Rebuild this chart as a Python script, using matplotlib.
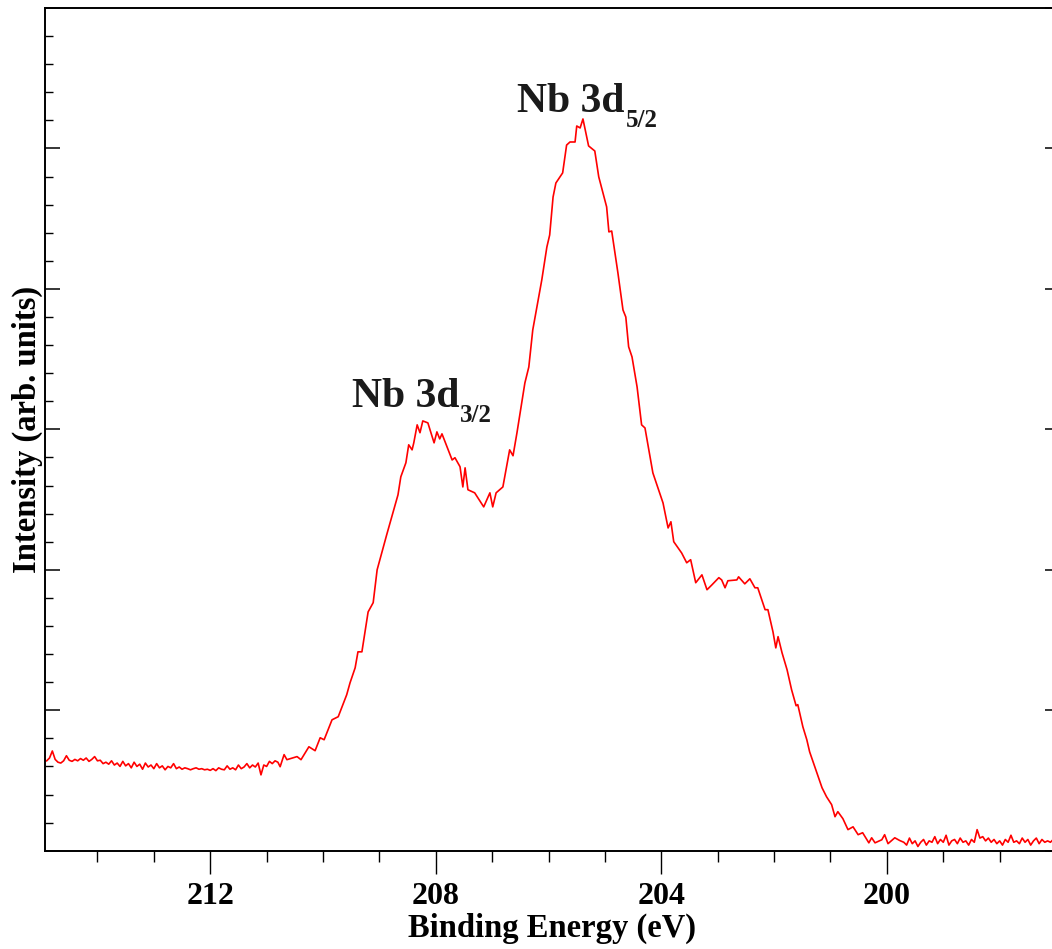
import matplotlib
matplotlib.use("Agg")
import matplotlib.pyplot as plt
from matplotlib.ticker import MultipleLocator, NullFormatter

plt.rcParams['font.family'] = ['Liberation Serif', 'DejaVu Serif']

# ---- data: binding energy (eV) and intensity (arb. units) ----
energy_left = [214.90, 214.85, 214.80, 214.75, 214.70, 214.65, 214.60, 214.55, 214.50, 214.45,
               214.40, 214.35, 214.30, 214.25, 214.20, 214.15, 214.10, 214.05, 214.00, 213.95,
               213.90, 213.85, 213.80, 213.75, 213.70, 213.65, 213.60, 213.55, 213.50, 213.45,
               213.40, 213.35, 213.30, 213.25, 213.20, 213.15, 213.10, 213.05, 213.00, 212.95,
               212.90, 212.85, 212.80, 212.75, 212.70, 212.65, 212.60, 212.55, 212.50, 212.45,
               212.40, 212.35, 212.30, 212.25, 212.20, 212.15, 212.10, 212.05, 212.00, 211.95,
               211.90, 211.85, 211.80, 211.75, 211.70, 211.65, 211.60, 211.55, 211.50, 211.45,
               211.40, 211.35, 211.30, 211.25, 211.20, 211.15, 211.10, 211.05, 211.00, 210.95,
               210.90, 210.85, 210.80]
intensity_left = [3.20, 3.30, 3.55, 3.25, 3.15, 3.12, 3.20, 3.38, 3.22, 3.18,
                  3.25, 3.20, 3.28, 3.22, 3.30, 3.18, 3.25, 3.35, 3.20, 3.22,
                  3.10, 3.15, 3.08, 3.20, 3.05, 3.12, 3.00, 3.18, 3.02, 3.10,
                  2.95, 3.15, 3.00, 3.08, 2.90, 3.12, 2.98, 3.05, 2.92, 3.10,
                  2.95, 3.02, 2.88, 3.00, 2.95, 3.10, 2.92, 2.98, 2.90, 2.95,
                  2.92, 2.88, 2.92, 2.95, 2.90, 2.92, 2.88, 2.90, 2.86, 2.92,
                  2.85, 2.95, 2.90, 2.88, 3.02, 2.90, 2.95, 2.88, 3.05, 2.92,
                  2.98, 3.10, 2.95, 3.05, 2.98, 3.12, 2.70, 3.05, 3.00, 3.18,
                  3.10, 3.20, 3.15]

energy_peaks = [210.76, 210.69, 210.64, 210.46, 210.39, 210.25, 210.14, 210.05, 209.98, 209.84,
                209.73, 209.58, 209.52, 209.43, 209.38, 209.31, 209.20, 209.11, 209.04, 208.87,
                208.67, 208.62, 208.53, 208.48, 208.42, 208.39, 208.33, 208.28, 208.23, 208.14,
                208.03, 207.98, 207.93, 207.89, 207.71, 207.66, 207.57, 207.52, 207.48, 207.43,
                207.31, 207.15, 207.04, 206.99, 206.93, 206.81, 206.69, 206.63, 206.56, 206.42,
                206.35, 206.28, 206.12, 206.03, 205.98, 205.92, 205.87, 205.75, 205.68, 205.62,
                205.53, 205.50, 205.44, 205.39, 205.29, 205.18, 205.11, 204.97, 204.93, 204.88,
                204.77, 204.68, 204.63, 204.58, 204.52, 204.43, 204.35, 204.29, 204.15, 203.97,
                203.88, 203.83, 203.78, 203.64, 203.55, 203.48, 203.39, 203.28, 203.19, 203.10,
                202.98, 202.93, 202.87, 202.82, 202.66, 202.63, 202.52, 202.43, 202.34, 202.29,
                202.16, 202.11, 202.02, 201.97, 201.93, 201.86, 201.77, 201.69, 201.61, 201.58,
                201.49, 201.42, 201.37, 201.15, 201.07, 200.98, 200.92, 200.87, 200.78, 200.69,
                200.60, 200.51, 200.43, 200.32, 200.27, 200.21, 200.09, 200.04, 199.98, 199.86,
                199.77]
intensity_peaks = [2.99, 3.42, 3.24, 3.35, 3.24, 3.70, 3.56, 4.02, 3.95, 4.66,
                   4.77, 5.55, 5.98, 6.51, 7.08, 7.08, 8.50, 8.83, 10.00, 11.25,
                   12.67, 13.31, 13.81, 14.45, 14.27, 14.52, 15.16, 14.88, 15.30, 15.23,
                   14.52, 14.91, 14.66, 14.84, 13.91, 13.99, 13.67, 12.95, 13.63, 12.85,
                   12.74, 12.24, 12.74, 12.24, 12.74, 12.95, 14.27, 14.06, 14.88, 16.65,
                   17.22, 18.54, 20.32, 21.49, 21.92, 23.27, 23.77, 24.13, 25.12, 25.23,
                   25.23, 25.80, 25.73, 26.05, 25.09, 24.91, 23.99, 22.92, 22.03, 22.06,
                   20.57, 19.25, 19.00, 17.94, 17.58, 16.51, 15.16, 15.05, 13.45, 12.38,
                   11.49, 11.71, 11.00, 10.60, 10.25, 10.36, 9.54, 9.82, 9.29, 9.47,
                   9.72, 9.64, 9.36, 9.61, 9.64, 9.75, 9.50, 9.68, 9.36, 9.36,
                   8.58, 8.58, 7.79, 7.22, 7.62, 7.05, 6.44, 5.73, 5.16, 5.20,
                   4.41, 3.95, 3.52, 2.24, 1.92, 1.64, 1.21, 1.39, 1.14, 0.75,
                   0.85, 0.57, 0.64, 0.28, 0.46, 0.28, 0.39, 0.57, 0.25, 0.46,
                   0.36]

energy_right = [199.70, 199.65, 199.60, 199.55, 199.50, 199.45, 199.40, 199.35, 199.30, 199.25,
                199.20, 199.15, 199.10, 199.05, 199.00, 198.95, 198.90, 198.85, 198.80, 198.75,
                198.70, 198.65, 198.60, 198.55, 198.50, 198.45, 198.40, 198.35, 198.30, 198.25,
                198.20, 198.15, 198.10, 198.05, 198.00, 197.95, 197.90, 197.85, 197.80, 197.75,
                197.70, 197.65, 197.60, 197.55, 197.50, 197.45, 197.40, 197.35, 197.30, 197.25,
                197.20, 197.15, 197.10, 197.05, 197.00, 196.95]
intensity_right = [0.30, 0.20, 0.45, 0.25, 0.35, 0.15, 0.30, 0.40, 0.20, 0.35,
                   0.30, 0.50, 0.25, 0.40, 0.30, 0.55, 0.20, 0.35, 0.40, 0.25,
                   0.45, 0.30, 0.35, 0.20, 0.40, 0.30, 0.75, 0.45, 0.50, 0.35,
                   0.45, 0.30, 0.40, 0.25, 0.35, 0.20, 0.40, 0.30, 0.55, 0.30,
                   0.35, 0.25, 0.45, 0.30, 0.40, 0.20, 0.35, 0.45, 0.25, 0.40,
                   0.30, 0.35, 0.30, 0.40, 0.30, 0.35]

energy = energy_left + energy_peaks + energy_right
intensity = intensity_left + intensity_peaks + intensity_right

x_ticks = [212, 208, 204, 200]
x_tick_labels = ["212", "208", "204", "200"]
peak_main = ["Nb 3d", "Nb 3d"]
peak_sub = ["5/2", "3/2"]
peak_label_pos = [(206.56, 26.3), (209.49, 15.8)]

# ---- figure ----
W, H = 1052, 949
fig = plt.figure(figsize=(W / 100, H / 100), dpi=100)
ax = fig.add_axes([45 / W, 1 - 850.7 / H, 1015 / W, (850.7 - 8) / H])

ax.plot(energy, intensity, color='#ff0000', lw=1.2)

ax.set_xlim(214.93, 196.93)
ax.set_ylim(0, 30)

ax.set_xticks(x_ticks)
ax.set_xticklabels(x_tick_labels)
ax.xaxis.set_minor_locator(MultipleLocator(1))
ax.yaxis.set_major_locator(MultipleLocator(5))
ax.yaxis.set_minor_locator(MultipleLocator(1))
ax.yaxis.set_major_formatter(NullFormatter())
ax.yaxis.set_minor_formatter(NullFormatter())

ax.tick_params(axis='x', which='major', direction='out', length=16.5, width=1.0,
               labelsize=23, pad=6)
ax.tick_params(axis='x', which='minor', direction='out', length=8, width=1.0)
ax.tick_params(axis='y', which='major', direction='in', length=11, width=1.1,
               left=True, right=True)
ax.tick_params(axis='y', which='minor', direction='in', length=6, width=1.0,
               left=True, right=False)
for lbl in ax.get_xticklabels():
    lbl.set_fontweight('bold')

for s in ax.spines.values():
    s.set_linewidth(1.4)

ax.set_xlabel("Binding Energy (eV)", fontsize=23.5, fontweight='bold', labelpad=1.5)
ax.set_ylabel("Intensity (arb. units)", fontsize=23.5, fontweight='bold', labelpad=-2)

renderer = fig.canvas.get_renderer()
for main, sub, (xe, yv) in zip(peak_main, peak_sub, peak_label_pos):
    t = ax.text(xe, yv, main, fontsize=30, fontweight='bold', ha='left', va='baseline',
                color='#1a1a1a')
    bb = t.get_window_extent(renderer=renderer)
    x_disp, y_disp = ax.transData.transform((xe, yv))
    sub_x, sub_y = ax.transData.inverted().transform((bb.x1 + 1, y_disp - 15))
    ax.text(sub_x, sub_y, sub, fontsize=18, fontweight='bold', ha='left', va='baseline',
            color='#1a1a1a')

fig.savefig("out.png", dpi=100)
